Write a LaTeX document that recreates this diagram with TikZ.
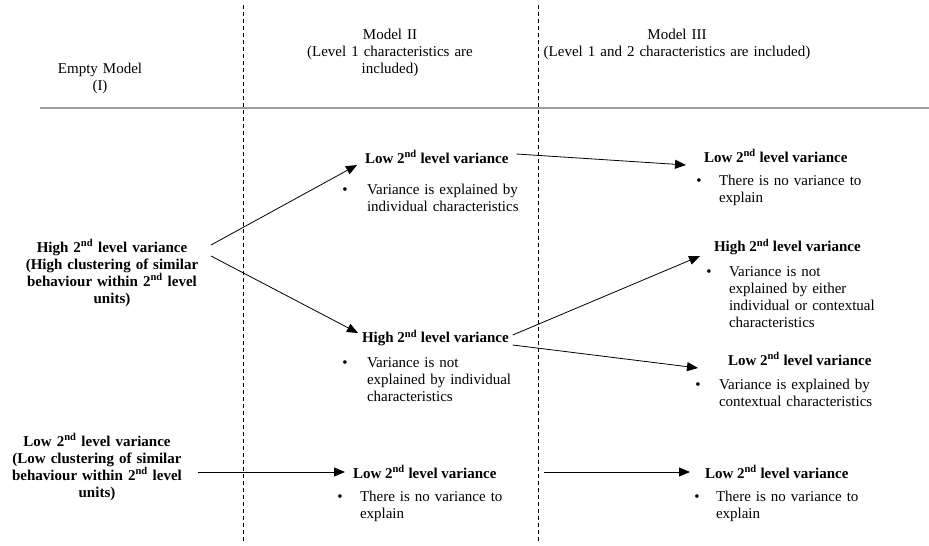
\documentclass[tikz,border=0pt]{standalone}
\usepackage{fontspec}
\setmainfont{Liberation Serif}
\usetikzlibrary{arrows.meta}
\tikzset{
  base/.style={inner sep=0pt, outer sep=0pt, font=\fontsize{15}{17.3}\selectfont},
  hdr/.style={base, text width=320pt, align=center, anchor=base},
  ttl/.style={base, font=\fontsize{15}{17.3}\selectfont\bfseries, anchor=west},
  lft/.style={base, font=\fontsize{15}{17}\selectfont\bfseries, text width=200pt, align=center, anchor=base},
  bodytxt/.style={base, text width=190pt, align=left, anchor=base west},
  bul/.style={base, anchor=base},
  arr/.style={line width=0.8pt, -{Triangle[length=11pt,width=9pt]}},
  sep/.style={line width=0.6pt, dash pattern=on 4pt off 3pt},
}
\begin{document}
\begin{tikzpicture}[x=1pt,y=-1pt]
\useasboundingbox (0,0) rectangle (929,546);
% separators
\draw[sep] (243,5) -- (243,541);
\draw[sep] (538,5) -- (538,541);
\draw[line width=2.5pt, gray!75] (40,108) -- (929,108);
% headers
\node[hdr] (hI) at (100,73) {Empty Model\\(I)};
\node[hdr] (hII) at (390,39) {Model II\\(Level 1 characteristics are\\included)};
\node[hdr] (hIII) at (677,39) {Model III\\(Level 1 and 2 characteristics are included)};
% left column
\node[lft] (L1) at (112,252) {High 2\textsuperscript{nd} level variance\\(High clustering of similar\\behaviour within 2\textsuperscript{nd} level\\units)};
\node[lft] (L2) at (97,446) {Low 2\textsuperscript{nd} level variance\\(Low clustering of similar\\behaviour within 2\textsuperscript{nd} level\\units)};
% model II
\node[ttl] (t2a) at (365,157) {Low 2\textsuperscript{nd} level variance};
\node[bul] (u2a) at (345,194) {\textbullet};
\node[bodytxt] (b2a) at (367,194) {Variance is explained by\\individual characteristics};
\node[ttl] (t2b) at (362,338) {High 2\textsuperscript{nd} level variance};
\node[bul] (u2b) at (345,367) {\textbullet};
\node[bodytxt] (b2b) at (367,367) {Variance is not\\explained by individual\\characteristics};
\node[ttl] (t2c) at (353,472) {Low 2\textsuperscript{nd} level variance};
\node[bul] (u2c) at (340,501) {\textbullet};
\node[bodytxt] (b2c) at (360,501) {There is no variance to\\explain};
% model III
\node[ttl] (t3a) at (704,156) {Low 2\textsuperscript{nd} level variance};
\node[bul] (u3a) at (699,185) {\textbullet};
\node[bodytxt] (b3a) at (719,185) {There is no variance to\\explain};
\node[ttl] (t3b) at (714,247) {High 2\textsuperscript{nd} level variance};
\node[bul] (u3b) at (709,276) {\textbullet};
\node[bodytxt] (b3b) at (729,276) {Variance is not\\explained by either\\individual or contextual\\characteristics};
\node[ttl] (t3c) at (728,359) {Low 2\textsuperscript{nd} level variance};
\node[bul] (u3c) at (698,389) {\textbullet};
\node[bodytxt] (b3c) at (719,389) {Variance is explained by\\contextual characteristics};
\node[ttl] (t3d) at (705,472) {Low 2\textsuperscript{nd} level variance};
\node[bul] (u3d) at (697,501) {\textbullet};
\node[bodytxt] (b3d) at (716,501) {There is no variance to\\explain};
% arrows
\draw[arr] ([xshift=-1pt,yshift=7pt]L1.base east) -- ([xshift=-8pt,yshift=-8pt]t2a.west);
\draw[arr] ([xshift=-1pt,yshift=-4pt]L1.base east) -- ([xshift=-4pt,yshift=5pt]t2b.west);
\draw[arr] ([xshift=8pt,yshift=3pt]t2a.east) -- ([xshift=-18pt,yshift=-9pt]t3a.west);
\draw[arr] ([xshift=4pt,yshift=3pt]t2b.east) -- ([xshift=-14pt,yshift=-9pt]t3b.west);
\draw[arr] ([xshift=4pt,yshift=-7pt]t2b.east) -- ([xshift=-30pt,yshift=-9pt]t3c.west);
\draw[arr] ([xshift=1pt]L2.east |- t2c.west) -- ([xshift=-8pt]t2c.west);
\draw[arr] ([xshift=48pt]t2c.east) -- ([xshift=-15pt]t3d.west);
\end{tikzpicture}
\end{document}
